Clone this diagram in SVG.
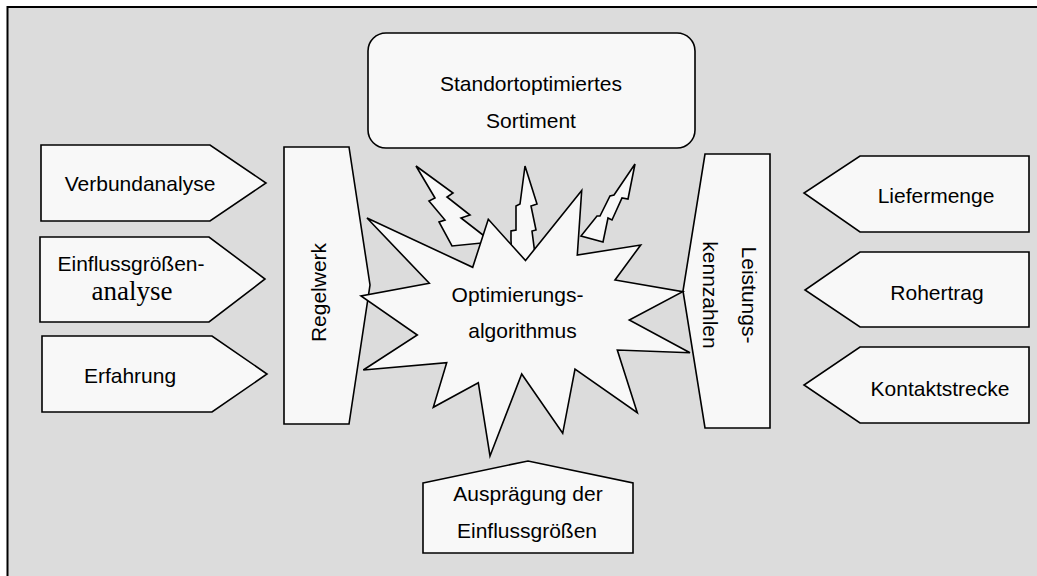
<svg xmlns="http://www.w3.org/2000/svg" width="1037" height="576" viewBox="0 0 1037 576">
<style>
.s{fill:#f8f8f8;stroke:#000;stroke-width:1.6;stroke-linejoin:miter}
.t{font-family:"Liberation Sans",Arial,sans-serif;font-size:21px;fill:#000;text-anchor:middle}
.r{font-family:"Liberation Serif","Times New Roman",serif;font-size:27px;fill:#000;text-anchor:middle}
</style>
<rect x="0" y="0" width="1037" height="576" fill="#fff"/>
<rect x="7.5" y="7" width="1040" height="580" fill="#dcdcdc" stroke="#000" stroke-width="2"/>
<g id="sortiment">
<rect class="s" x="368" y="33" width="327" height="115" rx="18"/>
<text class="t" x="531" y="91">Standortoptimiertes</text>
<text class="t" x="531" y="128">Sortiment</text>
</g>
<g id="verbundanalyse">
<polygon class="s" points="41,145 210,145 266,183 210,221 41,221"/>
<text class="t" x="140" y="191">Verbundanalyse</text>
</g>
<g id="einflussgroessenanalyse">
<polygon class="s" points="40,237 209,237 265,279 209,322 40,322"/>
<text class="t" x="131" y="271">Einflussgrößen-</text>
<text class="r" x="132" y="300">analyse</text>
</g>
<g id="erfahrung">
<polygon class="s" points="42,336 212,336 267,374 212,412 42,412"/>
<text class="t" x="130" y="383">Erfahrung</text>
</g>
<g id="liefermenge">
<polygon class="s" points="1029,156 860,156 804,193 860,232 1029,232"/>
<text class="t" x="936" y="203">Liefermenge</text>
</g>
<g id="rohertrag">
<polygon class="s" points="1029,252 860,252 805,290 860,327 1029,327"/>
<text class="t" x="937" y="300">Rohertrag</text>
</g>
<g id="kontaktstrecke">
<polygon class="s" points="1029,347 860,347 804,385 860,423 1029,423"/>
<text class="t" x="940" y="396">Kontaktstrecke</text>
</g>
<g id="regelwerk">
<polygon class="s" points="284,147 349,147 370,285 349,424 284,424"/>
<text class="t" transform="translate(326,292.5) rotate(-90)" x="0" y="0">Regelwerk</text>
</g>
<g id="leistungskennzahlen">
<polygon class="s" points="705,154 770,154 770,428 705,428 683,291"/>
<text class="t" transform="translate(742,295) rotate(90)" x="0" y="0">Leistungs-</text>
<text class="t" transform="translate(703,295) rotate(90)" x="0" y="0">kennzahlen</text>
</g>
<g id="auspraegung">
<polygon class="s" points="423,483 528,461 633,483 633,553 423,553"/>
<text class="t" x="528" y="501">Ausprägung der</text>
<text class="t" x="527" y="538">Einflussgrößen</text>
</g>
<g id="connectors">
<polygon class="s" points="416,166 453,193 447,197 470,215 461,218 492,242 452,246 439,222 445,220 429,201 435,198"/>
<polygon class="s" points="525,166 537,204 531,206 536,230 532,231 536,262 512,262 511,240 511,231 516,230 516,206 520,204"/>
<polygon class="s" points="635,164 628,199 622,198 612,220 608,218 603,242 581,236 597,216 600,216 610,196 614,195"/>
</g>
<g id="optimierungsalgorithmus">
<polygon class="s" points="367,218 472.7,267.3 488.3,219.3 525.5,260.5 581.7,190.5 577.3,255 640.7,245 615,280 682.7,291.7 629.3,320 690,352.7 617.3,350 637.3,412.7 575,369 562.7,433.3 521.7,374 490,456 478.3,382.7 433.3,407.3 446.7,362.7 363.3,370 417.3,335 361,296 429.3,283.3"/>
<text class="t" x="517.5" y="302">Optimierungs-</text>
<text class="t" x="522.5" y="338">algorithmus</text>
</g>
</svg>
